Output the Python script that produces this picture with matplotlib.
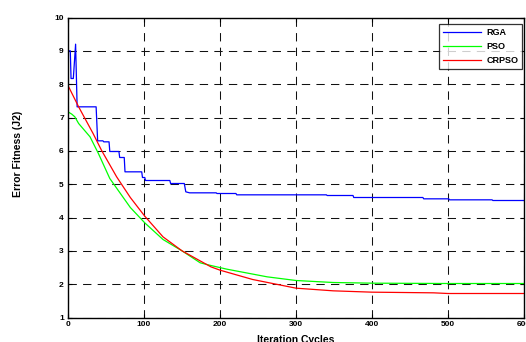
import matplotlib
matplotlib.use("Agg")
import matplotlib.pyplot as plt

plt.rcParams["font.family"] = ["Liberation Sans", "DejaVu Sans"]
plt.rcParams["font.weight"] = "bold"

# RGA best fitness (step-like trace)
rga_iter = [0, 3, 4, 7, 10, 12, 37, 39, 46, 47, 54, 55, 67, 68, 74, 75, 97, 98,
            101, 102, 134, 135, 153, 155, 160, 195, 196, 221, 222, 340, 341,
            375, 376, 467, 468, 501, 502, 558, 559, 600]
rga_fit = [9.0, 9.0, 8.17, 8.17, 9.2, 7.32, 7.32, 6.3, 6.3, 6.27, 6.27, 5.98,
           5.98, 5.8, 5.8, 5.37, 5.37, 5.2, 5.2, 5.11, 5.11, 5.02, 5.02, 4.77,
           4.74, 4.74, 4.72, 4.72, 4.68, 4.68, 4.66, 4.66, 4.60, 4.60, 4.56,
           4.56, 4.53, 4.53, 4.51, 4.51]

# PSO
pso_iter = [0, 5, 9, 14, 29, 40, 55, 82, 101, 125, 150, 174, 188, 209, 262,
            300, 349, 400, 500, 600]
pso_fit = [7.17, 7.1, 7.02, 6.82, 6.42, 5.92, 5.17, 4.30, 3.84, 3.34, 3.0,
           2.64, 2.56, 2.45, 2.22, 2.11, 2.05, 2.03, 2.02, 2.02]

# CRPSO
crpso_iter = [0, 14, 33, 44, 64, 82, 101, 125, 150, 188, 200, 243, 300, 349,
              400, 481, 500, 600]
crpso_fit = [7.96, 7.32, 6.52, 6.02, 5.22, 4.60, 4.04, 3.42, 3.0, 2.52, 2.42,
             2.14, 1.88, 1.80, 1.76, 1.74, 1.72, 1.72]

x_ticks = [0, 100, 200, 300, 400, 500, 600]
y_ticks = [1, 2, 3, 4, 5, 6, 7, 8, 9, 10]

fig = plt.figure(figsize=(5.26, 3.42), dpi=100)
ax = fig.add_axes([68 / 526, 1 - 317.5 / 342, 456 / 526, 300 / 342])

ax.plot(rga_iter, rga_fit, color="#0000ff", lw=0.9, label="RGA")
ax.plot(pso_iter, pso_fit, color="#00ff00", lw=0.9, label="PSO")
ax.plot(crpso_iter, crpso_fit, color="#ff0000", lw=0.9, label="CRPSO")

ax.set_xlim(0, 600)
ax.set_ylim(1, 10)
ax.set_xticks(x_ticks)
ax.set_yticks(y_ticks)
ax.tick_params(direction="in", length=3, width=0.8, labelsize=6,
               top=True, right=True)
ax.tick_params(axis="x", pad=2.5)
ax.tick_params(axis="y", pad=3)
for lbl in ax.get_xticklabels() + ax.get_yticklabels():
    lbl.set_fontweight("bold")

ax.grid(True, color="#111111", linestyle=(0, (8, 6)), linewidth=0.75)
for sp in ax.spines.values():
    sp.set_linewidth(1.0)

ax.set_xlabel("Iteration Cycles", fontsize=7.5, fontweight="bold", labelpad=5)
ax.set_ylabel("Error Fitness (J2)", fontsize=7.5, fontweight="bold")
ax.yaxis.set_label_coords(-0.099, 0.546)

leg = ax.legend(loc="upper right", bbox_to_anchor=(0.9965, 0.977),
                fontsize=6.5, frameon=True, fancybox=False, borderpad=0.45,
                handlelength=4.2, handletextpad=0.6, labelspacing=0.55,
                borderaxespad=0)
leg.get_frame().set_edgecolor("black")
leg.get_frame().set_linewidth(0.9)
for t in leg.get_texts():
    t.set_fontweight("bold")

fig.savefig("out.png", dpi=100)
